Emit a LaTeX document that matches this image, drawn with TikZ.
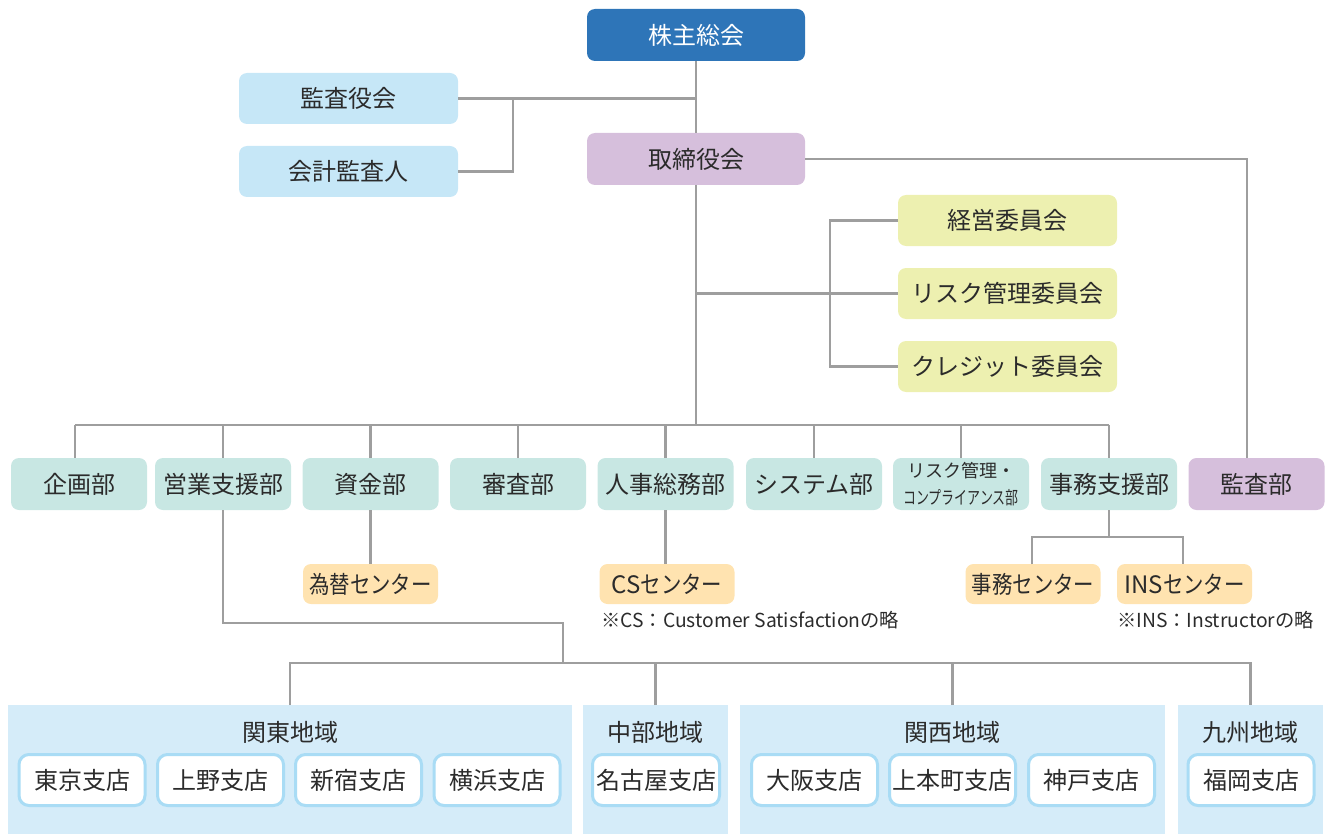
\documentclass[tikz,border=0pt]{standalone}
\usepackage{fontspec}
\newfontfamily\jp{Noto Sans CJK JP}
\newfontfamily\jpn{Noto Sans CJK JP}[FakeStretch=0.85]
\newfontfamily\jpc{Noto Sans CJK JP}[FakeStretch=0.72]
\definecolor{txt}{HTML}{2B2B2B}
\definecolor{cblue}{HTML}{2E75B8}
\definecolor{cpurple}{HTML}{D6BFDC}
\definecolor{clblue}{HTML}{C6E7F7}
\definecolor{cyellow}{HTML}{EDF0B0}
\definecolor{cteal}{HTML}{C8E7E3}
\definecolor{corange}{HTML}{FFE3B0}
\definecolor{cregion}{HTML}{D5ECF9}
\definecolor{cbord}{HTML}{A9DCF5}
\definecolor{cline}{HTML}{9E9E9E}
\tikzset{
  base/.style={rounded corners=8pt, inner sep=0pt, outer sep=0pt, text=txt, align=center,
    font=\jp\fontsize{24}{28}\selectfont},
  topbox/.style={base, fill=cblue, text=white, minimum width=218, minimum height=52},
  boardbox/.style={base, fill=cpurple, minimum width=218, minimum height=52},
  audbox/.style={base, fill=clblue, minimum width=219, minimum height=51},
  combox/.style={base, fill=cyellow, minimum width=219, minimum height=51},
  deptbox/.style={base, fill=cteal, minimum width=136, minimum height=52},
  centbox/.style={base, fill=corange, minimum width=135, minimum height=40,
    font=\jpn\fontsize{24}{28}\selectfont},
  regionbox/.style={fill=cregion, inner sep=0pt, outer sep=0pt, minimum height=129},
  regtitle/.style={text=txt, inner sep=0pt, font=\jp\fontsize{24}{28}\selectfont},
  branchbox/.style={base, fill=white, draw=cbord, line width=3pt, rounded corners=10pt,
    minimum width=126, minimum height=51},
  notetext/.style={text=txt, inner sep=0pt, anchor=west, font=\jp\fontsize{19.3}{22}\selectfont},
  conn/.style={draw=cline, line width=2.5pt}
}
\begin{document}
\begin{tikzpicture}[x=1pt, y=-1pt]
\useasboundingbox (0,0) rectangle (1329,834);
% regions (background)
\node[regionbox, minimum width=564] (kanto) at (290,769.5) {};
\node[regionbox, minimum width=145] (chubu) at (655.5,769.5) {};
\node[regionbox, minimum width=425] (kansai) at (952.5,769.5) {};
\node[regionbox, minimum width=145] (kyushu) at (1250.5,769.5) {};
\node[regtitle] (t1) at (290,732) {関東地域};
\node[regtitle] (t2) at (655.5,732) {中部地域};
\node[regtitle] (t3) at (952.5,732) {関西地域};
\node[regtitle] (t4) at (1250.5,732) {九州地域};
% branches
\node[branchbox] (b1) at (82,780) {東京支店};
\node[branchbox] (b2) at (220.5,780) {上野支店};
\node[branchbox] (b3) at (358.5,780) {新宿支店};
\node[branchbox] (b4) at (497,780) {横浜支店};
\node[branchbox, minimum width=127] (b5) at (656,780) {名古屋支店};
\node[branchbox] (b6) at (814.5,780) {大阪支店};
\node[branchbox] (b7) at (952.5,780) {上本町支店};
\node[branchbox] (b8) at (1091.5,780) {神戸支店};
\node[branchbox] (b9) at (1251,780) {福岡支店};
% top
\node[topbox] (top) at (696,35) {株主総会};
\node[boardbox] (board) at (696,159) {取締役会};
\node[audbox] (kansa) at (348.5,98.5) {監査役会};
\node[audbox] (kaikei) at (348.5,171.5) {会計監査人};
% committees
\node[combox] (keiei) at (1007.5,220.5) {経営委員会};
\node[combox] (risk) at (1007.5,293.5) {リスク管理委員会};
\node[combox] (credit) at (1007.5,366.5) {クレジット委員会};
% departments
\node[deptbox] (kikaku) at (79,484) {企画部};
\node[deptbox] (eigyo) at (223,484) {営業支援部};
\node[deptbox] (shikin) at (370.5,484) {資金部};
\node[deptbox] (shinsa) at (518,484) {審査部};
\node[deptbox] (jinji) at (665.5,484) {人事総務部};
\node[deptbox] (system) at (814,484) {システム部};
\node[deptbox] (riskc) at (961,484) {{\jp\fontsize{18}{22}\selectfont リスク管理・}\\[-1pt]{\jpc\fontsize{18}{22}\selectfont コンプライアンス部}};
\node[deptbox] (jimushien) at (1109,484) {事務支援部};
\node[boardbox, minimum width=136] (kansabu) at (1256.5,484) {監査部};
% centers
\node[centbox] (kawase) at (370.5,584) {為替センター};
\node[centbox] (cs) at (667,584) {{\jp CS}センター};
\node[centbox] (jimuc) at (1033,584) {事務センター};
\node[centbox] (ins) at (1184.5,584) {{\jp INS}センター};
\node[notetext] (n1) at (601,620) {※CS：Customer Satisfactionの略};
\node[notetext] (n2) at (1117,620) {※INS：Instructorの略};
% coordinates
\coordinate (kj) at (513,100);
\coordinate (cj) at (830,294);
\coordinate (db) at (696,425);
\coordinate (js) at (1109,537);
\coordinate (e1) at (563,623);
\coordinate (rb) at (563,663);
% connectors
\draw[conn] (top.south) -- (board.north);
\draw[conn] (kansa.east) -- (kansa.east -| top.south);
\draw[conn] (kaikei.east) -| (kj);
\draw[conn] (board.east) -| ([xshift=-9.5]kansabu.north);
\draw[conn] (risk.west -| board.south) -- (risk.west);
\draw[conn] (keiei.west) -| (cj);
\draw[conn] (cj) |- (credit.west);
\draw[conn] (board.south) -- (db);
\draw[conn] ([xshift=-4]kikaku.north |- db) -- (jimushien.north |- db);
\draw[conn] ([xshift=-4]kikaku.north |- db) -- ([xshift=-4]kikaku.north);
\foreach \n in {eigyo,shikin,shinsa,jinji,system,riskc,jimushien}
  \draw[conn] (\n.north |- db) -- (\n.north);
\draw[conn] (shikin.south) -- (kawase.north);
\draw[conn] (jinji.south) -- (jinji.south |- cs.north);
\draw[conn] (jimushien.south) -- (js);
\draw[conn] ([xshift=-1]jimuc.north) |- (js) -| ([xshift=-1.5]ins.north);
\draw[conn] (eigyo.south) |- (e1) -- (rb);
\draw[conn] (kanto.north) |- (rb) -| (kyushu.north);
\draw[conn] (chubu.north) -- (chubu.north |- rb);
\draw[conn] (kansai.north) -- (kansai.north |- rb);
\end{tikzpicture}
\end{document}
